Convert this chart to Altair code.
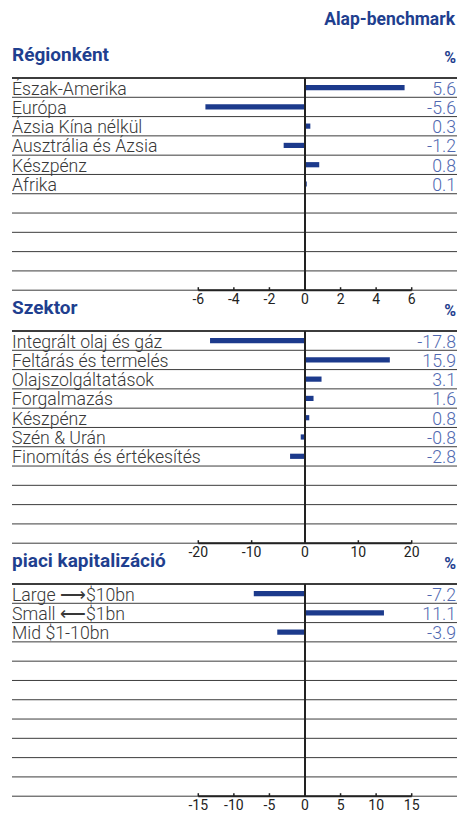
import altair as alt
import pandas as pd

# ---- data ----
header_text = "Alap-benchmark"

region_title = "Régionként"
region_cats = ["Észak-Amerika", "Európa", "Ázsia Kína nélkül", "Ausztrália és Ázsia", "Készpénz", "Afrika"]
region_vals = [5.6, -5.6, 0.3, -1.2, 0.8, 0.1]
region_ticks = [-6, -4, -2, 0, 2, 4, 6]

sector_title = "Szektor"
sector_cats = ["Integrált olaj és gáz", "Feltárás és termelés", "Olajszolgáltatások", "Forgalmazás",
               "Készpénz", "Szén & Urán", "Finomítás és értékesítés"]
sector_vals = [-17.8, 15.9, 3.1, 1.6, 0.8, -0.8, -2.8]
sector_ticks = [-20, -10, 0, 10, 20]

cap_title = "piaci kapitalizáció"
cap_cats = ["Large ⟶$10bn", "Small ⟵$1bn", "Mid $1-10bn"]
cap_vals = [-7.2, 11.1, -3.9]
cap_ticks = [-15, -10, -5, 0, 5, 10, 15]

# ---- style / layout ----
NAVY = "#1c3a8c"
TITLE_BLUE = "#1f3f8f"
VALUE_BLUE = "#4f68b0"
TEXT = "#383838"
LINE = "#3c3c3c"
FONT = "Roboto"
W = 445          # view width (page content is 450 px wide)
ZERO_PX = 293    # position of the zero line inside the view
TICK_PX = 106.7  # distance from zero to the outermost tick
NROWS = 11
H = 212.2
RIGHT_TXT = 444  # right edge of value column


def panel(title, cats, vals, ticks, header=None, extra=0, clip_labels=False):
    tmax = max(ticks)
    upp = tmax / TICK_PX
    xs = alt.Scale(domain=[-ZERO_PX * upp, (W - ZERO_PX) * upp], nice=False, zero=False)
    ys = alt.Scale(domain=[0, NROWS], range=[0, H], nice=False, zero=False)

    df = pd.DataFrame({"cat": cats, "val": vals})
    df["row"] = range(len(df))
    df["vtxt"] = [f"{v:.1f}" for v in vals]

    lines = alt.Chart(pd.DataFrame({"r": list(range(NROWS + 1))})).mark_rule(color=LINE).encode(
        y=alt.Y("r:Q", scale=ys, axis=None),
        x=alt.value(0), x2=alt.value(W),
        strokeWidth=alt.condition("datum.r == 0", alt.value(2), alt.value(1)),
    )

    bars = alt.Chart(df).transform_calculate(
        y1="datum.row + 0.36", y2="datum.row + 0.63", zero="0"
    ).mark_rect(color=NAVY).encode(
        x=alt.X("val:Q", scale=xs, axis=None),
        x2="zero:Q",
        y=alt.Y("y1:Q", scale=ys, axis=None),
        y2="y2:Q",
    )

    base = alt.Chart(df).transform_calculate(yb="datum.row + 0.86")
    labels = base.mark_text(align="left", baseline="alphabetic", fontSize=17.7, font=FONT,
                            fontWeight=300, color=TEXT).encode(
        x=alt.value(0), y=alt.Y("yb:Q", scale=ys, axis=None), text="cat:N")
    values = base.mark_text(align="right", baseline="alphabetic", fontSize=17.7, font=FONT,
                            fontWeight=300, color=VALUE_BLUE).encode(
        x=alt.value(RIGHT_TXT), y=alt.Y("yb:Q", scale=ys, axis=None), text="vtxt:N")

    zero = alt.Chart(pd.DataFrame({"z": [0], "a": [0], "b": [NROWS]})).mark_rule(
        strokeWidth=2, color="#222").encode(
        x=alt.X("z:Q", scale=xs, axis=None),
        y=alt.Y("a:Q", scale=ys, axis=None), y2="b:Q")

    dom = alt.Chart(pd.DataFrame({"a": [min(ticks)], "b": [max(ticks)]})).mark_rule(
        strokeWidth=2, color="#222").encode(
        x=alt.X("a:Q", scale=xs, axis=None), x2="b:Q", y=alt.value(H))

    tdf = pd.DataFrame({"t": ticks, "lab": [str(t) for t in ticks]})
    tk = alt.Chart(tdf).mark_rule(strokeWidth=1.5, color="#222").encode(
        x=alt.X("t:Q", scale=xs, axis=None), y=alt.value(H - 3), y2=alt.value(H))
    tlab = alt.Chart(tdf).mark_text(
        align="center", baseline="top", fontSize=14, font=FONT, color="#222",
        clip=clip_labels).encode(
        x=alt.X("t:Q", scale=xs, axis=None), y=alt.value(H + 3), text="lab:N")

    ttl = alt.Chart(pd.DataFrame({"t": [title]})).mark_text(
        align="left", baseline="alphabetic", fontSize=19, fontWeight="bold", font=FONT,
        color=TITLE_BLUE).encode(x=alt.value(0), y=alt.value(-17), text="t:N")
    pct = alt.Chart(pd.DataFrame({"t": ["%"]})).mark_text(
        align="right", baseline="alphabetic", fontSize=16, fontWeight="bold", font=FONT,
        color=TITLE_BLUE).encode(x=alt.value(RIGHT_TXT), y=alt.value(-15), text="t:N")

    layers = [lines, bars, zero, dom, tk, tlab, labels, values, ttl, pct]
    if header:
        hd = alt.Chart(pd.DataFrame({"t": [header]})).mark_text(
            align="right", baseline="alphabetic", fontSize=17.5, fontWeight="bold", font=FONT,
            color=TITLE_BLUE).encode(x=alt.value(RIGHT_TXT - 1), y=alt.value(-53), text="t:N")
        layers.append(hd)
    return alt.layer(*layers).properties(width=W, height=H + extra)


p1 = panel(region_title, region_cats, region_vals, region_ticks, header=header_text)
p2 = panel(sector_title, sector_cats, sector_vals, sector_ticks)
p3 = panel(cap_title, cap_cats, cap_vals, cap_ticks, extra=15, clip_labels=True)

chart = alt.vconcat(p1, p2, p3, spacing=40, bounds="flush").properties(
    padding={"left": 3, "top": 3, "right": 0, "bottom": 0}
).configure_view(stroke=None)

chart.save("out.html", embed_options={"renderer": "svg", "actions": False})
